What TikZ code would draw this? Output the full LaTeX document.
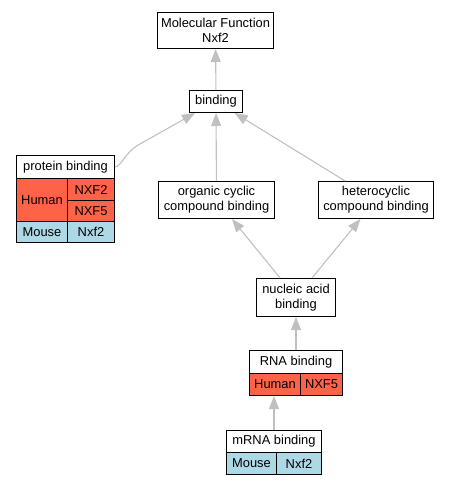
\documentclass[tikz,border=0pt]{standalone}
\usepackage{fontspec}
\setmainfont{Liberation Sans}
\usetikzlibrary{arrows.meta}
\definecolor{tomato}{RGB}{255,99,71}
\definecolor{mouseblue}{RGB}{173,216,230}
\definecolor{edgegray}{RGB}{192,192,192}
\tikzset{
    term/.style={
           rectangle,
           draw=black, line width=1pt,
           inner sep=0pt,
           anchor=north west,
           align=center,
           font=\fontsize{12.9}{15}\selectfont,
           },
}
\tikzset{
    human/.style={term, fill=tomato},
    mouse/.style={term, fill=mouseblue},
}
\tikzset{
    edge/.style={
           draw=edgegray, line width=1.1pt,
           -{Triangle[length=13pt,width=10pt]},
           },
}

\begin{document}
\begin{tikzpicture}[x=1pt,y=-1pt]
\useasboundingbox (0,0) rectangle (449,485);
% terms
\node[term, minimum width=116pt, minimum height=36pt] (mf) at (157,12) {Molecular Function\\Nxf2};
\node[term, minimum width=53pt, minimum height=22pt] (bind) at (189,90) {binding};
\node[term, minimum width=116pt, minimum height=37pt] (org) at (158,181) {organic cyclic\\compound binding};
\node[term, minimum width=115pt, minimum height=37pt] (het) at (318,181) {heterocyclic\\compound binding};
\node[term, minimum width=79pt, minimum height=38pt] (nuc) at (256,278) {nucleic acid\\binding};
% protein binding table
\node[term, minimum width=98pt, minimum height=23pt] (pb) at (16,155) {protein binding};
\node[human, minimum width=51pt, minimum height=43pt] (pbH) at (16,178) {Human};
\node[human, minimum width=47pt, minimum height=22pt] (pbN2) at (67,178) {NXF2};
\node[human, minimum width=47pt, minimum height=21pt] (pbN5) at (67,200) {NXF5};
\node[mouse, minimum width=51pt, minimum height=21pt] (pbM) at (16,221) {Mouse};
\node[mouse, minimum width=47pt, minimum height=21pt] (pbX) at (67,221) {Nxf2};
% RNA binding table
\node[term, minimum width=93pt, minimum height=23pt] (rna) at (249,350) {RNA binding};
\node[human, minimum width=51pt, minimum height=22pt] (rnaH) at (249,373) {Human};
\node[human, minimum width=42pt, minimum height=22pt] (rnaN) at (300,373) {NXF5};
% mRNA binding table
\node[term, minimum width=95pt, minimum height=22pt] (mrna) at (226,430) {mRNA binding};
\node[mouse, minimum width=50pt, minimum height=22pt] (mrnaM) at (226,452) {Mouse};
\node[mouse, minimum width=45pt, minimum height=22pt] (mrnaX) at (276,452) {Nxf2};
% edges
\draw[edge] (bind) -- (mf);
\draw[edge] (pb.east) .. controls (122,166) and (124,153) .. (140,144) -- ([xshift=6pt]bind.south west);
\draw[edge] (org) -- (bind);
\draw[edge] (het) -- (bind);
\draw[edge] (nuc) -- (org);
\draw[edge] (nuc) -- (het);
\draw[edge] (rna) -- (nuc);
\draw[edge] (mrna.north) -- (mrna.north |- rnaH.south);
\end{tikzpicture}
\end{document}
